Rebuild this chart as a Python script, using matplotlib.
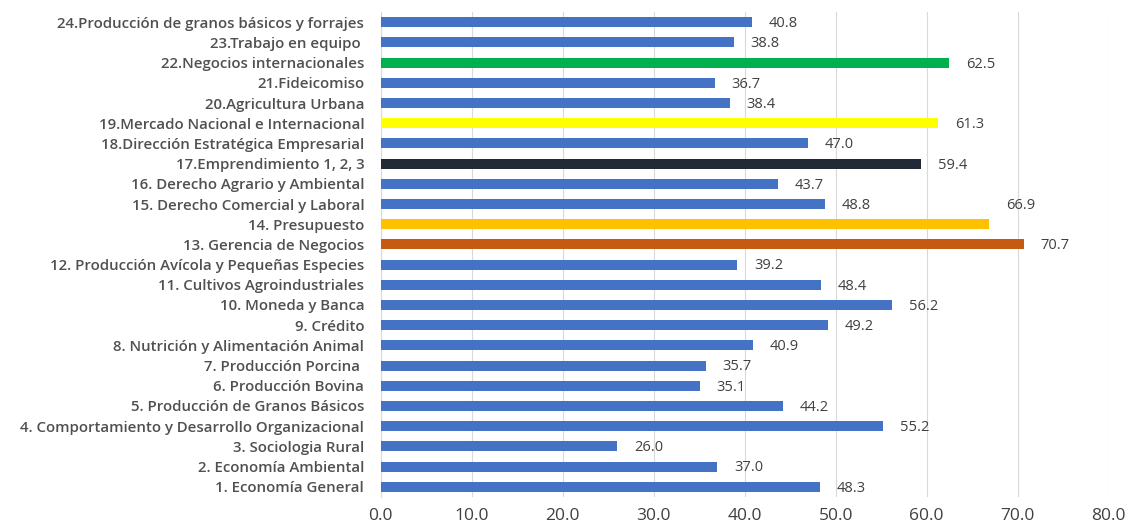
import matplotlib
matplotlib.use("Agg")
import matplotlib.pyplot as plt

categories = [
    "1. Economía General",
    "2. Economía Ambiental",
    "3. Sociologia Rural",
    "4. Comportamiento y Desarrollo Organizacional",
    "5. Producción de Granos Básicos",
    "6. Producción Bovina",
    "7. Producción Porcina ",
    "8. Nutrición y Alimentación Animal",
    "9. Crédito",
    "10. Moneda y Banca",
    "11. Cultivos Agroindustriales",
    "12. Producción Avícola y Pequeñas Especies",
    "13. Gerencia de Negocios",
    "14. Presupuesto",
    "15. Derecho Comercial y Laboral",
    "16. Derecho Agrario y Ambiental",
    "17.Emprendimiento 1, 2, 3",
    "18.Dirección Estratégica Empresarial",
    "19.Mercado Nacional e Internacional",
    "20.Agricultura Urbana",
    "21.Fideicomiso",
    "22.Negocios internacionales",
    "23.Trabajo en equipo ",
    "24.Producción de granos básicos y forrajes",
]
values = [48.3, 37.0, 26.0, 55.2, 44.2, 35.1, 35.7, 40.9, 49.2, 56.2, 48.4, 39.2,
          70.7, 66.9, 48.8, 43.7, 59.4, 47.0, 61.3, 38.4, 36.7, 62.5, 38.8, 40.8]

BLUE = "#4472C4"
highlight = {12: "#C55A11", 13: "#FFC000", 16: "#222A35", 18: "#FFFF00", 21: "#00B050"}
colors = [highlight.get(i, BLUE) for i in range(len(values))]

fig = plt.figure(figsize=(11.3, 5.28), dpi=100)
ax = fig.add_axes([0.337, 0.059, 0.644, 0.918])

y = list(range(len(values)))
ax.barh(y, values, height=0.5, color=colors, zorder=3)

for i, v in enumerate(values):
    dy = 1.0 if i == 13 else 0.0
    ax.annotate(f"{v:.1f}", xy=(v, i + dy), xytext=(12, -1), textcoords="offset points",
                va="center", ha="left", fontsize=10.5, color="#404040", family="Open Sans")

ax.set_xlim(0, 80)
ax.set_ylim(-0.5, 23.5)
ax.set_xticks([0, 10, 20, 30, 40, 50, 60, 70, 80])
ax.set_xticklabels([f"{t:.1f}" for t in range(0, 81, 10)], fontsize=12.5, color="#404040",
                   family="Open Sans")
ax.set_yticks(y)
ax.set_yticklabels(categories, fontsize=10.8, color="#505050", fontweight="semibold",
                   family="Open Sans")
ax.tick_params(axis="both", length=0)
ax.tick_params(axis="y", pad=12)
ax.tick_params(axis="x", pad=8)
ax.grid(axis="x", color="#D9D9D9", linewidth=0.8, zorder=0)
for s in ["top", "right", "bottom"]:
    ax.spines[s].set_visible(False)
ax.spines["left"].set_color("#D9D9D9")

fig.savefig("out.png", dpi=100)
